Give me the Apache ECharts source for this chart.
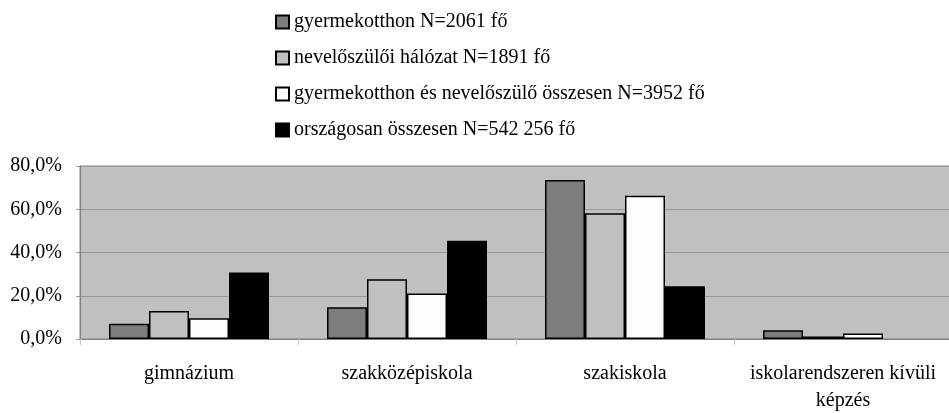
<!DOCTYPE html>
<html>
<head>
<meta charset="utf-8">
<script src="https://cdn.jsdelivr.net/npm/echarts@6/dist/echarts.min.js"></script>
<style>
html,body{margin:0;padding:0;background:#fff;}
#chart{width:949px;height:413px;}
</style>
</head>
<body>
<div id="chart"></div>
<script>
var categories = ['gimnázium', 'szakközépiskola', 'szakiskola', 'iskolarendszeren kívüli képzés'];
var seriesNames = ['gyermekotthon N=2061 fő', 'nevelőszülői hálózat N=1891 fő', 'gyermekotthon és nevelőszülő összesen N=3952 fő', 'országosan összesen N=542 256 fő'];
var gyermekotthon = [7.1, 14.7, 73.5, 4.0];
var neveloszuloi = [13.0, 27.6, 58.2, 1.2];
var osszesen = [9.6, 21.0, 66.2, 2.5];
var orszagosan = [30.7, 45.4, 24.4, 0];
var yTicks = [0, 20, 40, 60, 80];

var fills = ['#7d7d7d', '#c0c0c0', '#fdfdfd', '#000000'];
var values = [gyermekotthon, neveloszuloi, osszesen, orszagosan];
var font = '"Liberation Serif", "Times New Roman", serif';

var chart = echarts.init(document.getElementById('chart'), null, {renderer: 'canvas'});
chart.setOption({
  animation: false,
  backgroundColor: '#ffffff',
  textStyle: {fontFamily: font},
  legend: {
    orient: 'vertical',
    left: 270,
    top: 6,
    itemWidth: 13,
    itemHeight: 13,
    itemGap: 14,
    icon: 'rect',
    textStyle: {fontFamily: font, fontSize: 20, color: '#000', lineHeight: 22},
    data: seriesNames
  },
  grid: {
    left: 80, right: -3, top: 166, bottom: 74,
    outerBoundsMode: 'none',
    containLabel: false,
    show: true,
    backgroundColor: '#c0c0c0',
    borderColor: '#808080',
    borderWidth: 1
  },
  xAxis: {
    type: 'category',
    data: categories,
    axisLine: {lineStyle: {color: '#808080', width: 1}},
    axisTick: {show: true, length: 6, lineStyle: {color: '#c8c8c8'}},
    axisLabel: {
      fontFamily: font, fontSize: 20, color: '#000', margin: 21, lineHeight: 27,
      interval: 0,
      formatter: function (v) { return v.replace(' képzés', '\nképzés'); }
    }
  },
  yAxis: {
    type: 'value',
    min: yTicks[0], max: yTicks[yTicks.length - 1], interval: 20,
    axisLine: {show: true, lineStyle: {color: '#808080'}},
    axisTick: {show: true, length: 4, lineStyle: {color: '#999'}},
    splitLine: {lineStyle: {color: '#999999', width: 1}},
    axisLabel: {
      fontFamily: font, fontSize: 20, color: '#000', margin: 18,
      formatter: function (v) { return v.toFixed(1).replace('.', ',') + '%'; }
    }
  },
  series: seriesNames.map(function (n, i) {
    return {
      name: n,
      type: 'bar',
      data: values[i].map(function (v) { return v === 0 ? null : v; }),
      barWidth: 40,
      barGap: '0%',
      itemStyle: {color: fills[i], borderColor: '#000', borderWidth: 1.5}
    };
  })
});
</script>
</body>
</html>
